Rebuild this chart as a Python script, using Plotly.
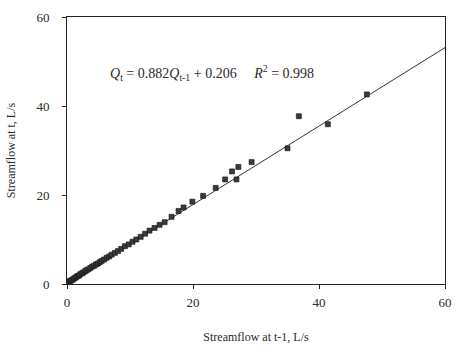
import plotly.graph_objects as go

# Observed streamflow pairs (Q at t-1, Q at t), L/s
q_prev = [0.3, 0.5, 0.7, 0.9, 1.1, 1.3, 1.5, 1.7, 1.9, 2.1, 2.4, 2.6, 2.9, 3.1, 3.4,
          3.7, 4.0, 4.3, 4.6, 4.9, 5.2, 5.5, 5.9, 6.3, 6.7, 7.1, 7.6, 8.1, 8.6, 9.2,
          9.8, 10.4, 11.0, 11.7, 12.4, 13.1, 13.9, 14.7, 15.5, 16.6, 17.7, 18.5, 19.9,
          21.6, 23.6, 25.1, 26.9, 26.2, 27.2, 29.3, 35.0, 36.8, 41.4, 47.6]
q_curr = [0.5, 0.7, 0.8, 1.0, 1.2, 1.4, 1.6, 1.8, 1.9, 2.2, 2.4, 2.6, 2.9, 3.1, 3.3,
          3.6, 3.9, 4.1, 4.4, 4.6, 4.9, 5.2, 5.5, 5.9, 6.2, 6.6, 7.0, 7.4, 7.9, 8.5,
          8.9, 9.5, 10.0, 10.6, 11.3, 12.0, 12.6, 13.3, 13.9, 15.1, 16.4, 17.2, 18.5,
          19.8, 21.6, 23.5, 23.5, 25.3, 26.3, 27.4, 30.5, 37.7, 35.9, 42.6]

# Fitted regression
slope = 0.882
intercept = 0.206
fit_x = [0, 60]
fit_y = [slope * v + intercept for v in fit_x]

tick_vals = [0, 20, 40, 60]

font_family = "Liberation Serif"
ink = "#2a2a2a"

fig = go.Figure()
fig.add_trace(go.Scatter(x=fit_x, y=fit_y, mode="lines",
                         line=dict(color="#333333", width=1), showlegend=False))
fig.add_trace(go.Scatter(x=q_prev, y=q_curr, mode="markers",
                         marker=dict(symbol="square", size=5, color="#3a3a3a",
                                     line=dict(color="#111111", width=0.6)),
                         showlegend=False))

fig.add_annotation(
    x=6.5, y=47.5, xref="x", yref="y", xanchor="left", yanchor="middle",
    text=("<i>Q</i><sub>t</sub> = 0.882<i>Q</i><sub>t-1</sub> + 0.206"
          "&nbsp;&nbsp;&nbsp;&nbsp;&nbsp;<i>R</i><sup>2</sup> = 0.998"),
    showarrow=False, font=dict(family=font_family, size=14, color=ink))

axis_common = dict(
    range=[0, 60], tickvals=tick_vals, ticks="outside", ticklen=4, tickwidth=1,
    tickcolor="#222222", showline=True, linecolor="#222222", linewidth=1,
    mirror=True, showgrid=False, zeroline=False,
    tickfont=dict(family=font_family, size=13, color=ink),
)

fig.update_xaxes(**axis_common, ticklabelstandoff=2,
                 title=dict(text="Streamflow at t-1, L/s", standoff=24,
                            font=dict(family=font_family, size=12, color=ink)))
fig.update_yaxes(**axis_common, ticklabelstandoff=10,
                 title=dict(text="Streamflow at t, L/s", standoff=18,
                            font=dict(family=font_family, size=12, color=ink)))

fig.update_layout(
    width=462, height=352,
    margin=dict(l=66, r=10, t=15, b=67),
    paper_bgcolor="white", plot_bgcolor="white",
)

fig.write_html("out.html")
